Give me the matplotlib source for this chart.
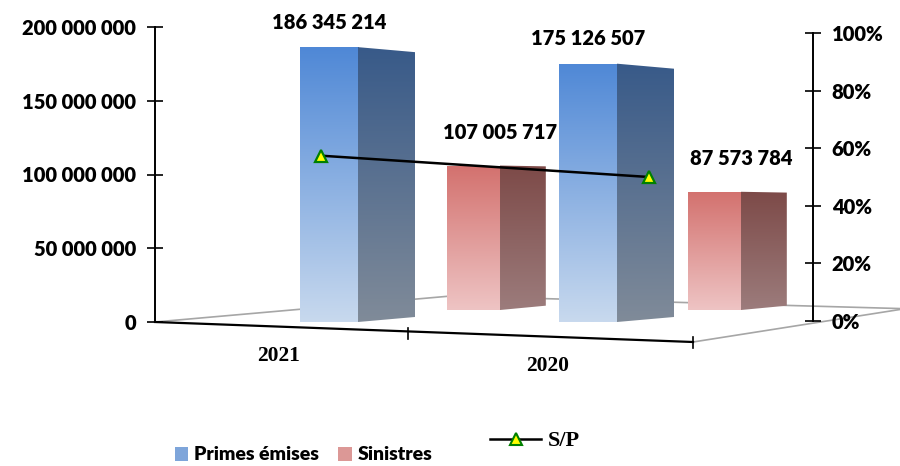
import matplotlib.pyplot as plt
import numpy as np
from matplotlib.patches import Polygon, Patch
from matplotlib.lines import Line2D
from matplotlib.colors import LinearSegmentedColormap
from matplotlib.ticker import FuncFormatter, PercentFormatter

years = ["2021", "2020"]
primes = [186345214, 175126507]
sinistres = [107005717, 87573784]
sp = [0.574, 0.500]

plt.rcParams["font.family"] = ["Lato", "DejaVu Sans"]

W, H = 900, 466
fig = plt.figure(figsize=(9, 4.66), dpi=100)

BOLD = "heavy"
FS = 14.5


def px_axes(x0, x1, ybot, ytop, z):
    a = fig.add_axes([x0 / W, 1 - ybot / H, (x1 - x0) / W, (ybot - ytop) / H], zorder=z)
    a.patch.set_alpha(0)
    return a


def space_sep(v):
    return f"{int(v):,}".replace(",", " ")


def shade(a, clip, bounds, c_top, c_bot, z):
    cmap = LinearSegmentedColormap.from_list("g", [c_bot, c_top])
    grad = np.linspace(0, 1, 256).reshape(-1, 1)
    im = a.imshow(grad, cmap=cmap, origin="lower", aspect="auto",
                  extent=bounds, zorder=z, interpolation="bilinear")
    im.set_clip_path(clip)


def draw_boxes(a, values, width, depth, drop, rise, front, side, z):
    bars = a.bar(range(len(values)), values, width=width, align="edge",
                 color="none", edgecolor="none", zorder=z)
    for rect in bars:
        x, h = rect.get_x(), rect.get_height()
        xr = x + rect.get_width()
        shade(a, rect, (x, xr, 0, h), front[0], front[1], z)
        verts = [(xr, 0), (xr + depth, rise), (xr + depth, h - drop), (xr, h)]
        face = Polygon(verts, closed=True, fc="none", ec="none")
        a.add_patch(face)
        shade(a, face, (xr, xr + depth, 0, h), side[0], side[1], z)
    return bars


# floor of the 3d box
floor = fig.add_axes([0, 0, 1, 1], zorder=0)
floor.set_xlim(0, W)
floor.set_ylim(H, 0)
floor.axis("off")
grey = "#a6a6a6"
floor.plot([155, 451, 905], [322, 296, 308.7], color=grey, lw=1.2)
floor.plot([693, 905], [342, 308.7], color=grey, lw=1.2)
floor.plot([155, 693], [322, 342], color="black", lw=1.6)
for tx, ty in [(408, 333), (693, 342)]:
    floor.plot([tx, tx], [ty - 5, ty + 6], color="black", lw=1.2)
floor.text(279, 356, years[0], ha="center", va="center", fontsize=15.5,
           fontweight="bold", family="Liberation Serif")
floor.text(548, 366, years[1], ha="center", va="center", fontsize=15.5,
           fontweight="bold", family="Liberation Serif")

# back row: Sinistres
ax_s = px_axes(155, 813, 310, 40, 2)
draw_boxes(ax_s, sinistres, 0.22, 0.19, 0.6e6, 3.2e6,
           ("#d3716e", "#eec4c4"), ("#7d4a48", "#9c7c7c"), 2)
ax_s.set_xlim((155 - 447) / 241, (813 - 447) / 241)
ax_s.set_ylim(0, 200e6)
ax_s.axis("off")
for i, v in enumerate(sinistres):
    ax_s.annotate(space_sep(v), xy=(i + 0.22, v), xytext=(0, 24),
                  textcoords="offset points", ha="center", va="center",
                  fontsize=FS, fontweight=BOLD)

# front row: Primes émises, carries the left axis
ax = px_axes(155, 813, 322, 27, 3)
draw_boxes(ax, primes, 0.224, 0.22, 3.4e6, 3.4e6,
           ("#4f88d6", "#c8d9ee"), ("#385a89", "#808b99"), 3)
ax.set_xlim((155 - 300) / 259, (813 - 300) / 259)
ax.set_ylim(0, 200e6)
ax.set_yticks(np.arange(0, 200e6 + 1, 50e6))
ax.yaxis.set_major_formatter(FuncFormatter(lambda v, p: space_sep(v)))
ax.tick_params(axis="y", direction="inout", length=11, width=1.2, pad=8,
               labelsize=FS)
for lab in ax.get_yticklabels():
    lab.set_fontweight(BOLD)
ax.set_xticks([])
for s in ["top", "right", "bottom"]:
    ax.spines[s].set_visible(False)
ax.spines["left"].set_linewidth(1.4)
for i, v in enumerate(primes):
    ax.annotate(space_sep(v), xy=(i + 0.112, v), xytext=(0, 18),
                textcoords="offset points", ha="center", va="center",
                fontsize=FS, fontweight=BOLD)

# S/P ratio on the right axis
ax_p = px_axes(155, 813, 321, 33, 4)
ax_p.plot(range(len(sp)), sp, color="black", lw=1.8, marker="^",
          markersize=9, markerfacecolor="#ffff00", markeredgecolor="#008000",
          markeredgewidth=1.6)
ax_p.set_xlim((155 - 321) / 328, (813 - 321) / 328)
ax_p.set_ylim(0, 1)
ax_p.yaxis.tick_right()
ax_p.set_yticks(np.arange(0, 1.01, 0.2))
ax_p.yaxis.set_major_formatter(PercentFormatter(1.0, decimals=0))
ax_p.tick_params(axis="y", direction="inout", length=11, width=1.2, pad=8,
                 labelsize=FS)
for lab in ax_p.get_yticklabels():
    lab.set_fontweight(BOLD)
ax_p.set_xticks([])
for s in ["top", "left", "bottom"]:
    ax_p.spines[s].set_visible(False)
ax_p.spines["right"].set_linewidth(1.4)

# legends
leg1 = fig.legend(handles=[Patch(fc="#7ea5da"), Patch(fc="#dc9896")],
                  labels=["Primes émises", "Sinistres"], loc="center left",
                  bbox_to_anchor=(157 / W, 1 - 455 / H), ncol=2, frameon=False,
                  handlelength=0.7, handleheight=0.7, handletextpad=0.3,
                  columnspacing=1.0, prop={"size": 14, "weight": BOLD})
leg2 = fig.legend(handles=[Line2D([], [], color="black", lw=1.8, marker="^",
                                  markersize=8, markerfacecolor="#ffff00",
                                  markeredgecolor="#008000", markeredgewidth=1.5)],
                  labels=["S/P"], loc="center left",
                  bbox_to_anchor=(470 / W, 1 - 441 / H), frameon=False,
                  handlelength=2.3, handletextpad=0.3,
                  prop={"size": 16, "weight": "bold", "family": "Liberation Serif"})

fig.savefig("out.png", dpi=100)
